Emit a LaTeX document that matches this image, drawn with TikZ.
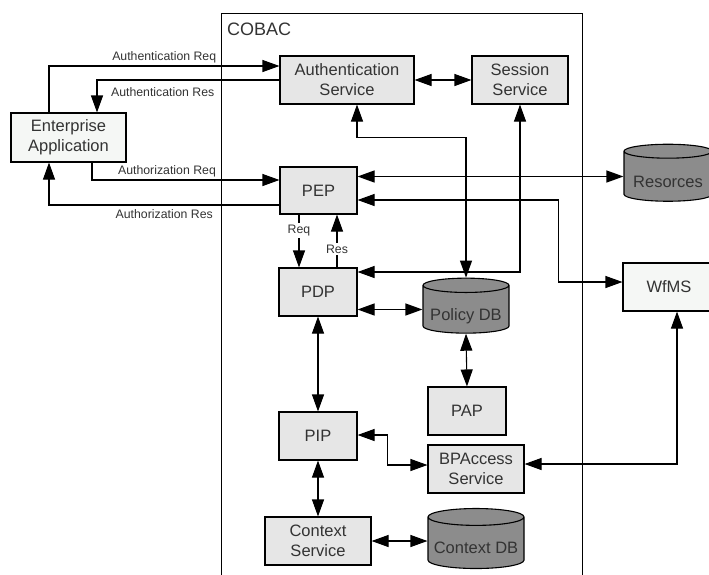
\documentclass[tikz,border=0pt]{standalone}
\usepackage{fontspec}
\setmainfont{Liberation Sans}
\usetikzlibrary{positioning, arrows.meta, shapes.geometric}

\definecolor{boxgray}{HTML}{E6E6E6}
\definecolor{dbgray}{HTML}{8C8C8C}
\definecolor{palebox}{HTML}{F5F7F5}
\definecolor{txtgray}{HTML}{333333}

\tikzset{
    box/.style={draw, line width=1.1pt, fill=boxgray, text=txtgray, align=center,
        inner sep=0pt, font=\fontsize{16.5}{20}\selectfont},
    pale/.style={box, fill=palebox},
    db/.style={draw, line width=1.1pt, fill=dbgray, text=txtgray, cylinder,
        shape border rotate=90, aspect=0.2, inner sep=0pt,
        text height=24.5pt, text depth=3.5pt,
        font=\fontsize{16.5}{20}\selectfont},
    lbl/.style={text=txtgray, inner sep=2pt, font=\fontsize{12.3}{14}\selectfont},
    arr/.style={-{Triangle[length=17pt,width=12pt]}, line width=1.1pt},
    dbl/.style={{Triangle[length=17pt,width=12pt]}-{Triangle[length=17pt,width=12pt]}, line width=1.1pt},
}

\begin{document}
\begin{tikzpicture}[x=1pt, y=-1pt]
    \useasboundingbox (0,0) rectangle (709,574);

    \node[draw, line width=1.1pt, minimum width=361pt, minimum height=600pt, anchor=north west] (cobac) at (221,13) {};
    \node[anchor=north west, inner sep=0pt, text=txtgray, font=\fontsize{18}{20}\selectfont] (title) at ([xshift=6pt,yshift=-10pt]cobac.north west) {COBAC};

    \node[pale, minimum width=115pt, minimum height=49pt] (ea) at (68.5,137.5) {Enterprise\\Application};
    \node[box, minimum width=134pt, minimum height=48pt] (auth) at (347,80) {Authentication\\Service};
    \node[box, minimum width=96pt, minimum height=48pt] (sess) at (520,80) {Session\\Service};
    \node[box, minimum width=77pt, minimum height=47pt] (pep) at (318.5,190.5) {PEP};
    \node[box, minimum width=78pt, minimum height=48pt] (pdp) at (318,292) {PDP};
    \node[db, minimum width=86pt, minimum height=55pt] (poldb) at (466,309.5) {Policy DB};
    \node[box, minimum width=78pt, minimum height=48pt] (pap) at (467,411) {PAP};
    \node[box, minimum width=78pt, minimum height=48pt] (pip) at (318,436) {PIP};
    \node[box, minimum width=96pt, minimum height=48pt] (bpa) at (476,469) {BPAccess\\Service};
    \node[box, minimum width=106pt, minimum height=48pt] (ctx) at (318,541) {Context\\Service};
    \node[db, minimum width=96pt, minimum height=60pt] (ctxdb) at (476,543) {Context DB};
    \node[db, minimum width=88pt, minimum height=57pt] (res) at (668,176.5) {Resorces};
    \node[pale, minimum width=92pt, minimum height=48pt] (wfms) at (669,287) {WfMS};

    \draw[arr] ([xshift=-19.5pt]ea.north) |- node[lbl, pos=0.75, above] {Authentication Req} ([yshift=14pt]auth.west);
    \draw[arr] (auth.west) -| node[lbl, pos=0.32, below=5pt] {Authentication Res} ([xshift=28.5pt]ea.north);
    \draw[arr] ([xshift=23.5pt]ea.south) |- node[lbl, pos=0.7, above] {Authorization Req} ([yshift=10.5pt]pep.west);
    \draw[arr] ([yshift=-14.5pt]pep.west) -| node[lbl, pos=0.25, below=2pt] {Authorization Res} ([xshift=-19.5pt]ea.south);

    \draw[dbl] (auth) -- (sess);
    \draw[dbl] ([xshift=10pt]auth.south) -- ++(0,33) -| (poldb.north);
    \draw[dbl] (sess.south) |- ([yshift=20pt]pdp.east);
    \draw[dbl] (pep.east |- res.west) -- (res.west);
    \draw[dbl] ([yshift=-9.5pt]pep.east) -| ([xshift=-64pt,yshift=5pt]wfms.west) -- ([yshift=5pt]wfms.west);

    \draw[arr] ([xshift=-19.5pt]pep.south) -- node[lbl, fill=white, pos=0.31] {Req} ([xshift=-19pt]pdp.north);
    \draw[arr] ([xshift=19pt]pdp.north) -- node[lbl, fill=white, pos=0.35] {Res} ([xshift=18.5pt]pep.south);
    \draw[dbl] (pdp.east |- poldb.west) -- (poldb.west);
    \draw[dbl] (poldb.south) -- (pap.north);
    \draw[dbl] (pdp) -- (pip);
    \draw[dbl] ([yshift=1pt]pip.east) -- ++(30,0) |- ([yshift=4pt]bpa.west);
    \draw[dbl] ([yshift=5pt]bpa.east) -| ([xshift=8pt]wfms.south);
    \draw[dbl] (pip) -- (ctx);
    \draw[dbl] (ctx.east) -- (ctx.east -| ctxdb.west);
\end{tikzpicture}
\end{document}
